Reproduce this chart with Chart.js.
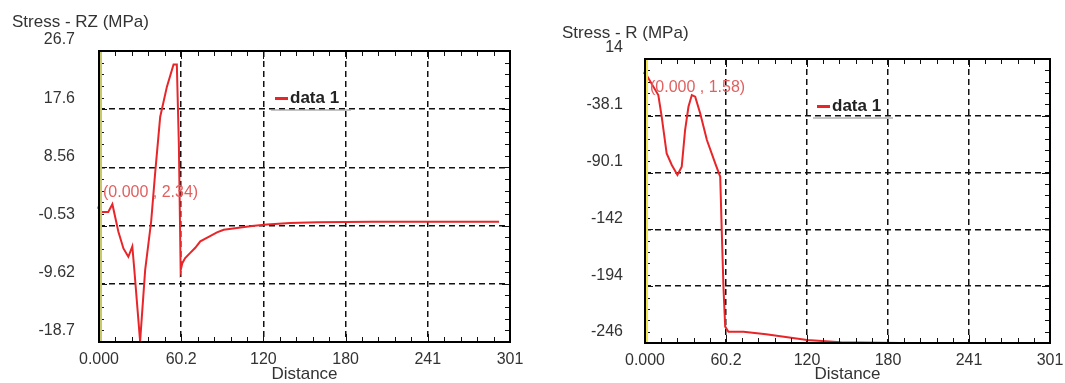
<!DOCTYPE html>
<html>
<head>
<meta charset="utf-8">
<script src="https://cdn.jsdelivr.net/npm/chart.js@4.4.1/dist/chart.umd.min.js"></script>
<style>
  body { margin: 0; background: #fff; width: 1065px; height: 383px; position: relative; overflow: hidden; }
  canvas { position: absolute; top: 0; }
  #rz { left: 0; }
  #r { left: 540px; }
</style>
</head>
<body>
<canvas id="rz" width="530" height="383"></canvas>
<canvas id="r" width="525" height="383"></canvas>
<script>
// tick labels
const distanceTicks = ["0.000", "60.2", "120", "180", "241", "301"];
const rzTicks = ["-18.7", "-9.62", "-0.53", "8.56", "17.6", "26.7"];
const rTicks = ["-246", "-194", "-142", "-90.1", "-38.1", "14"];

// Stress - RZ
const rzDistance = [0, 1.5, 6.8, 9.8, 14.2, 17.9, 21.5, 24.4, 25.9, 30.1, 33.8, 38.2, 41.1, 44.8, 49.7, 54.6, 57,
  58.5, 59.8, 61, 63.1, 66.8, 70.5, 74.2, 80.3, 86.4, 91.3, 101, 112, 123, 140, 160, 200, 250, 293];
const rzStress = [2.34, 1.6, 1.6, 2.8, -1.5, -4.1, -5.4, -3.8, -7.5, -18.6, -7.5, 0.1, 7.6, 16.4, 21.1, 24.6, 24.6,
  12, -7.5, -6.4, -5.6, -4.8, -4.0, -3.0, -2.3, -1.6, -1.2, -0.9, -0.6, -0.35, -0.15, 0, 0.05, 0.05, 0.05];

// Stress - R
const rDistance = [0, 9.9, 12.4, 16.1, 19.9, 24.1, 27.3, 29.8, 32.3, 34.8, 37.3, 41, 46, 52.2, 55.9, 57.1,
  58.3, 59.6, 62, 73.2, 90, 120.5, 145.3, 190];
const rStress = [1.58, -19, -38.8, -72.4, -83, -92.2, -84.6, -51, -29.7, -19, -20.5, -35.7, -60.2, -81.5, -93.8, -145.6,
  -194.5, -231, -235.7, -235.7, -238, -243.3, -245.4, -246];

Chart.defaults.font.family = "'Liberation Sans', Arial, sans-serif";
Chart.defaults.color = "#333";

// frame, inward tick marks, legend, value note and axis title
const decor = {
  id: "decor",
  afterDraw(chart, args, o) {
    const { ctx, chartArea: a } = chart;
    const xs = chart.scales.x, ys = chart.scales.y;
    ctx.save();
    ctx.strokeStyle = "#111";
    ctx.lineWidth = 1;
    xs.ticks.forEach((t, i) => {
      const p = Math.round(xs.getPixelForValue(t.value)) + 0.5;
      const len = i % 5 === 0 ? 8 : 5;
      ctx.beginPath();
      ctx.moveTo(p, a.top); ctx.lineTo(p, a.top + len);
      ctx.moveTo(p, a.bottom); ctx.lineTo(p, a.bottom - len);
      ctx.stroke();
    });
    ys.ticks.forEach((t, i) => {
      const p = Math.round(ys.getPixelForValue(t.value)) + 0.5;
      const len = i % 5 === 0 ? 8 : 5;
      ctx.beginPath();
      ctx.moveTo(a.left, p); ctx.lineTo(a.left + len, p);
      ctx.moveTo(a.right, p); ctx.lineTo(a.right - len, p);
      ctx.stroke();
    });
    ctx.fillStyle = o.edge;
    ctx.fillRect(a.left + 1, a.top + 1, 2, a.bottom - a.top - 2);
    ctx.strokeStyle = "#000";
    ctx.lineWidth = 2;
    ctx.strokeRect(a.left, a.top, a.right - a.left, a.bottom - a.top);

    // legend
    ctx.strokeStyle = "#e8262a";
    ctx.lineWidth = 3;
    ctx.beginPath();
    ctx.moveTo(o.legendX, o.legendY); ctx.lineTo(o.legendX + 13, o.legendY);
    ctx.stroke();
    ctx.fillStyle = "#222";
    ctx.font = "bold 17px 'Liberation Sans', Arial, sans-serif";
    ctx.textBaseline = "middle";
    ctx.textAlign = "left";
    ctx.fillText(chart.data.datasets[0].label, o.legendX + 15, o.legendY);
    ctx.strokeStyle = "#888";
    ctx.lineWidth = 1;
    ctx.beginPath();
    ctx.moveTo(o.legendX - 4, o.legendY + 11.5); ctx.lineTo(o.legendX + 76, o.legendY + 11.5);
    ctx.stroke();

    // value note
    ctx.fillStyle = "#e06060";
    ctx.font = "16px 'Liberation Sans', Arial, sans-serif";
    ctx.fillText(o.note, o.noteX, o.noteY);

    // axis title
    ctx.fillStyle = "#333";
    ctx.font = "17px 'Liberation Sans', Arial, sans-serif";
    ctx.fillText(o.title, o.titleX, o.titleY);
    ctx.restore();
  }
};

function spread(min, max) {
  const out = [];
  for (let i = 0; i <= 25; i++) out.push({ value: min + (max - min) * i / 25 });
  return out;
}

function makeChart(id, cfg) {
  const points = cfg.xs.map((x, i) => ({ x: x, y: cfg.ys[i] }));
  const gridColor = (c) => (c.index % 5 === 0 && c.index > 0 && c.index < 25) ? "#111" : "rgba(0,0,0,0)";
  return new Chart(document.getElementById(id), {
    type: "line",
    data: {
      datasets: [{
        label: "data 1",
        data: points,
        borderColor: "#e8262a",
        borderWidth: 2,
        pointRadius: (c) => c.dataIndex === 0 ? 3 : 0,
        pointStyle: "triangle",
        pointBackgroundColor: "#f07020",
        pointBorderWidth: 0,
        tension: 0,
        clip: 2
      }]
    },
    options: {
      responsive: false,
      animation: false,
      devicePixelRatio: 1,
      layout: { padding: { top: cfg.padTop, right: cfg.padRight, bottom: 0, left: 0 } },
      plugins: {
        legend: { display: false },
        tooltip: { enabled: false },
        decor: cfg.decor
      },
      scales: {
        x: {
          type: "linear",
          min: 0,
          max: 301,
          afterBuildTicks: (s) => { s.ticks = spread(0, 301); },
          afterFit: (s) => { s.height = cfg.xHeight; s.paddingLeft = 0; s.paddingRight = 0; },
          ticks: {
            autoSkip: false,
            maxRotation: 0,
            padding: 8,
            font: { size: 16 },
            callback: (v, i) => i % 5 === 0 ? distanceTicks[i / 5] : ""
          },
          grid: { color: gridColor, lineWidth: 1.5, drawTicks: false },
          border: { display: false, dash: [6, 4] },
          title: { display: true, text: "Distance", font: { size: 17, lineHeight: 1 }, padding: { top: 0, bottom: 0 }, color: "#333" }
        },
        y: {
          type: "linear",
          min: cfg.yMin,
          max: cfg.yMax,
          afterBuildTicks: (s) => { s.ticks = spread(cfg.yMin, cfg.yMax); },
          afterFit: (s) => { s.width = cfg.yWidth; s.paddingTop = 0; s.paddingBottom = 0; },
          ticks: {
            autoSkip: false,
            padding: cfg.yPad,
            labelOffset: -11,
            font: { size: 16 },
            callback: (v, i) => i % 5 === 0 ? cfg.yLabels[i / 5] : ""
          },
          grid: { color: gridColor, lineWidth: 1.5, drawTicks: false },
          border: { display: false, dash: [6, 4] }
        }
      }
    },
    plugins: [decor]
  });
}

makeChart("rz", {
  xs: rzDistance, ys: rzStress, yLabels: rzTicks, yMin: -18.7, yMax: 26.7,
  yWidth: 99, yPad: 24, padTop: 51, padRight: 20, xHeight: 41,
  decor: {
    edge: "#c9c96a", legendX: 275, legendY: 98.5,
    note: "(0.000 , 2.34)", noteX: 103, noteY: 193,
    title: "Stress - RZ (MPa)", titleX: 12, titleY: 22
  }
});

makeChart("r", {
  xs: rDistance, ys: rStress, yLabels: rTicks, yMin: -246, yMax: 14,
  yWidth: 105, yPad: 22, padTop: 59, padRight: 15, xHeight: 40,
  decor: {
    edge: "#f2e650", legendX: 277, legendY: 106.5,
    note: "(0.000 , 1.58)", noteX: 110, noteY: 88,
    title: "Stress - R (MPa)", titleX: 22, titleY: 33
  }
});
</script>
</body>
</html>
